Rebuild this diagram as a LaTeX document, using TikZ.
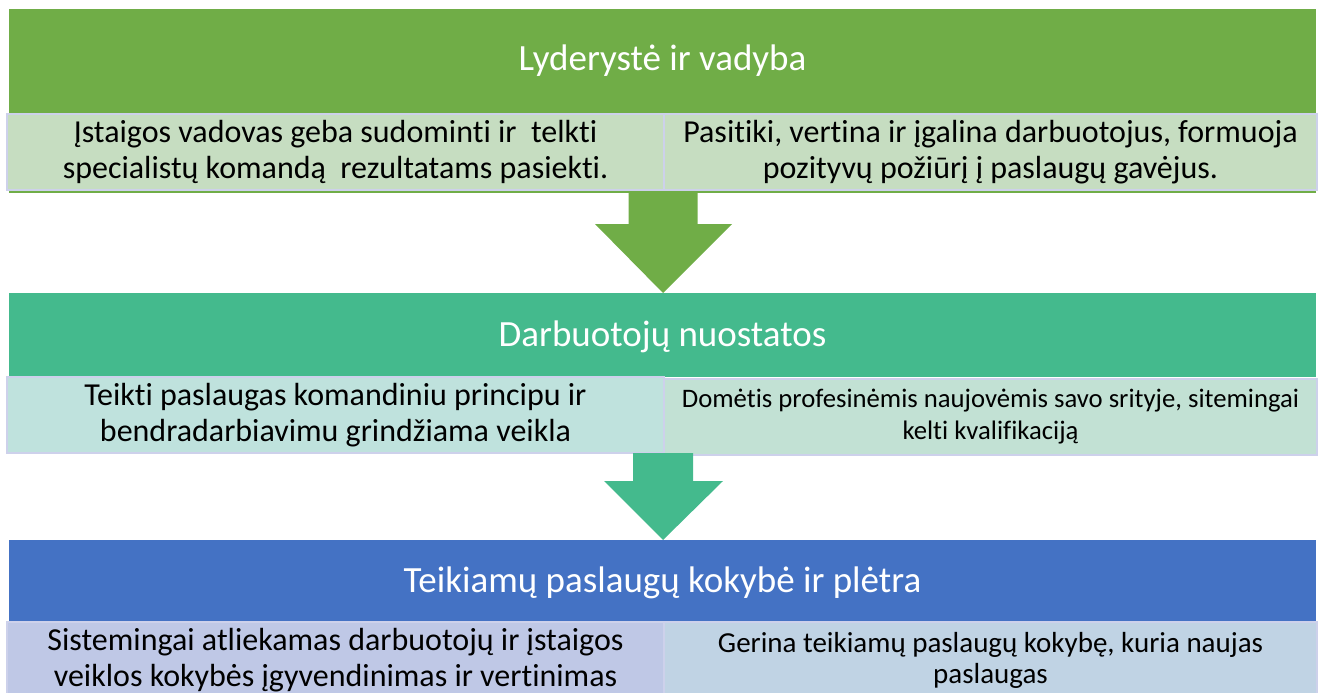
\documentclass[tikz,border=0pt]{standalone}
\usepackage{fontspec}
\setmainfont{Carlito}[Ligatures=NoCommon]
\definecolor{hgreen}{HTML}{70AD47}
\definecolor{hteal}{HTML}{44BA8D}
\definecolor{hblue}{HTML}{4472C4}
\definecolor{bgreen}{HTML}{C6DDC1}
\definecolor{bteala}{HTML}{BFE2DD}
\definecolor{btealb}{HTML}{C2E1D4}
\definecolor{bbluea}{HTML}{BFC8E6}
\definecolor{bblueb}{HTML}{C0D3E4}
\definecolor{bord}{HTML}{CDD1EB}
\begin{document}
\begin{tikzpicture}[x=1pt,y=-1pt,
  header/.style={rectangle, inner sep=0pt, minimum width=1307pt},
  htext/.style={inner sep=0pt, text=white, font=\fontsize{37}{44}\selectfont},
  item/.style={rectangle, draw=bord, line width=1.5pt, inner sep=0pt, minimum height=76pt, align=center, font=\fontsize{32}{36}\selectfont},
  bigarrow/.style={draw=none}]
\useasboundingbox (0,0) rectangle (1323,693);
% row 1
\node[header, fill=hgreen, minimum height=184pt] (h1) at (662.5,101) {};
\node[htext] (t1) at (662.5,61) {Lyderystė ir vadyba};
\node[item, fill=bgreen, minimum width=657pt] (a1) at (335.5,152) {Įstaigos vadovas geba sudominti ir~ telkti\\specialistų komandą~ rezultatams pasiekti.};
\node[item, fill=bgreen, minimum width=653pt] (b1) at (990.5,152) {Pasitiki, vertina ir įgalina darbuotojus, formuoja\\pozityvų požiūrį į paslaugų gavėjus.};
% arrow 1
\coordinate (p1) at (663,193);
\fill[hgreen, bigarrow] ([xshift=-34.5pt]p1) -- ([xshift=34.5pt]p1) -- ([xshift=34.5pt,yshift=-31pt]p1) -- ([xshift=69pt,yshift=-31pt]p1) -- ([yshift=-100pt]p1) -- ([xshift=-68pt,yshift=-31pt]p1) -- ([xshift=-34.5pt,yshift=-31pt]p1) -- cycle;
% row 2
\node[header, fill=hteal, minimum height=84pt] (h2) at (662.5,335) {};
\node[htext] (t2) at (662.5,337) {Darbuotojų nuostatos};
\node[item, fill=bteala, minimum width=657pt] (a2) at (335.5,415) {Teikti paslaugas komandiniu principu ir\\bendradarbiavimu grindžiama veikla};
\node[item, fill=btealb, minimum width=653pt, font=\fontsize{26.7}{32}\selectfont] (b2) at (990.5,417) {Domėtis profesinėmis naujovėmis savo srityje, sitemingai\\kelti kvalifikaciją};
% arrow 2
\coordinate (p2) at (663,453);
\fill[hteal, bigarrow] ([xshift=-30pt]p2) -- ([xshift=30pt]p2) -- ([xshift=30pt,yshift=-28pt]p2) -- ([xshift=60pt,yshift=-28pt]p2) -- ([yshift=-87pt]p2) -- ([xshift=-59pt,yshift=-28pt]p2) -- ([xshift=-30pt,yshift=-28pt]p2) -- cycle;
% row 3
\node[header, fill=hblue, minimum height=82pt] (h3) at (662.5,581) {};
\node[htext] (t3) at (662.5,583) {Teikiamų paslaugų kokybė ir plėtra};
\node[item, fill=bbluea, minimum width=657pt] (a3) at (335.5,660) {Sistemingai atliekamas darbuotojų ir įstaigos\\veiklos kokybės įgyvendinimas ir vertinimas};
\node[item, fill=bblueb, minimum width=653pt, font=\fontsize{29}{31}\selectfont] (b3) at (990.5,660) {Gerina teikiamų paslaugų kokybę, kuria naujas\\paslaugas};
\end{tikzpicture}
\end{document}
